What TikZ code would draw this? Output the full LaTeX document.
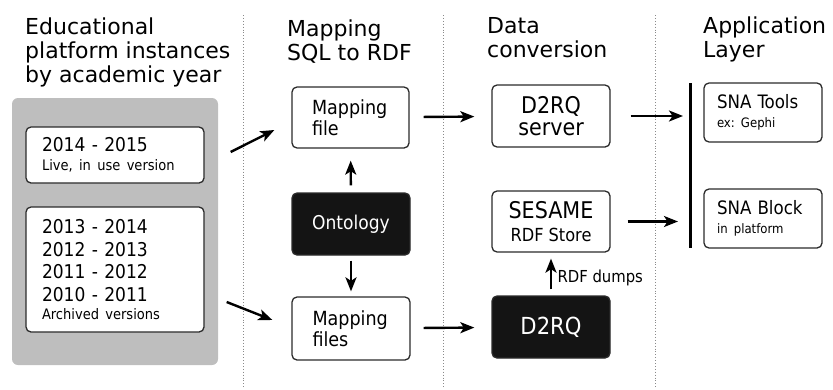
\documentclass[tikz,border=0pt]{standalone}
\usepackage{fontspec}
\setmainfont{DejaVu Sans Condensed}
\newfontfamily\headfont{DejaVu Sans}
\usetikzlibrary{arrows.meta}

\definecolor{panelgrey}{HTML}{BEBEBE}
\definecolor{boxline}{HTML}{2B2B2B}
\definecolor{sepgrey}{HTML}{8A8A8A}

\begin{document}
\frenchspacing
\begin{tikzpicture}[x=1pt,y=-1pt,
  heading/.style = {anchor=north west,inner sep=0pt,align=left,font=\headfont\fontsize{22}{24}\selectfont},
  panel/.style = {fill=panelgrey,rounded corners=6pt,minimum width=206pt,minimum height=267pt},
  box/.style = {draw=boxline,line width=1.3pt,rounded corners=5pt,fill=white,
                minimum width=117pt,minimum height=61pt,inner sep=0pt},
  darkbox/.style = {box,fill=black!92,text=white},
  flow/.style = {line width=2.4pt,-{Stealth[length=14pt,width=11pt,inset=3.5pt]}},
  separator/.style = {sepgrey,dotted,line width=0.9pt}]
\useasboundingbox (0,0) rectangle (833,389);

% column separators
\foreach \x in {243,443,655}
  \draw[separator] (\x,15) -- (\x,389);

% headings
\node[heading] (h1) at (25,18) {Educational\\platform instances\\by academic year};
\node[heading] (h2) at (287,20) {Mapping\\SQL to RDF};
\node[heading] (h3) at (487,17) {Data\\conversion};
\node[heading] (h4) at (703,17) {Application\\Layer};

% platform instances
\node[panel] (years) at (115,231.5) {};
\node[box,minimum width=178pt,minimum height=56pt,text width=146pt,align=left,
      font=\fontsize{19}{22.7}\selectfont] (live) at (115,155)
  {2014 - 2015\\[-4pt]{\fontsize{14.5}{16}\selectfont Live, in use version}};
\node[box,minimum width=178pt,minimum height=125pt,text width=146pt,align=left,
      font=\fontsize{19}{22.7}\selectfont] (archived) at (115,269.5)
  {2013 - 2014\\2012 - 2013\\2011 - 2012\\2010 - 2011\\[-4.5pt]{\fontsize{14.5}{16}\selectfont Archived versions}};

% mapping
\node[box,text width=77pt,align=left,font=\fontsize{19.5}{20.5}\selectfont] (mapfile) at (350.5,117.5) {Mapping\\file};
\node[darkbox,minimum width=118pt,minimum height=62pt,font=\fontsize{19}{20}\selectfont] (onto) at (351,224) {Ontology};
\node[box,minimum width=118pt,minimum height=63pt,text width=77pt,align=left,font=\fontsize{19.5}{20.5}\selectfont] (mapfiles) at (351,328.5) {Mapping\\files};

% conversion
\node[box,minimum width=118pt,minimum height=62pt,align=center,font=\fontsize{23}{22}\selectfont] (server) at (551,116) {D2RQ\\server};
\node[box,minimum width=118pt,align=center,font=\fontsize{23}{23}\selectfont] (sesame) at (551,221.5)
  {SESAME\\{\fontsize{18}{20}\selectfont RDF Store}};
\node[darkbox,minimum width=118pt,minimum height=62pt,font=\fontsize{23.5}{24}\selectfont] (d2rq) at (551,327) {D2RQ};

% application layer
\coordinate (bartop) at (690,83);
\coordinate (barbot) at (690,248);
\draw[line width=3pt] (bartop) -- (barbot);
\node[box,minimum width=118pt,minimum height=59pt,text width=92pt,align=left,font=\fontsize{18.5}{20}\selectfont] (tools) at (763,112.5)
  {SNA Tools\\[-1pt]{\fontsize{13}{16}\selectfont ex: Gephi}};
\node[box,minimum width=118pt,minimum height=59pt,text width=92pt,align=left,font=\fontsize{18.5}{20}\selectfont] (block) at (763,218.5)
  {SNA Block\\[-1pt]{\fontsize{13}{16}\selectfont in platform}};

% arrows
\draw[flow] ([xshift=26pt,yshift=3pt]live.east) -- ([xshift=-17pt,yshift=-12.5pt]mapfile.west);
\draw[flow] ([xshift=22pt,yshift=-32.5pt]archived.east) -- ([xshift=-19pt,yshift=8.5pt]mapfiles.west);
\draw[flow,shorten <=7pt,shorten >=12pt] (onto) -- (mapfile);
\draw[flow,shorten <=5pt,shorten >=5pt] (onto) -- (mapfiles);
\draw[flow,shorten <=14pt,shorten >=17pt] (mapfile) -- (server);
\draw[flow,shorten <=13pt,shorten >=17pt] (mapfiles) -- (d2rq);
\draw[flow,shorten <=6pt,shorten >=6pt] (d2rq) -- (sesame)
  node[midway,right=2pt,yshift=-4pt,font=\fontsize{16.5}{18}\selectfont] {RDF dumps};
\draw[flow,shorten <=20pt,shorten >=7pt] (server.east) -- (server.east -| bartop);
\draw[flow,shorten <=17pt,shorten >=12pt] (sesame.east) -- (sesame.east -| bartop);
\end{tikzpicture}
\end{document}
